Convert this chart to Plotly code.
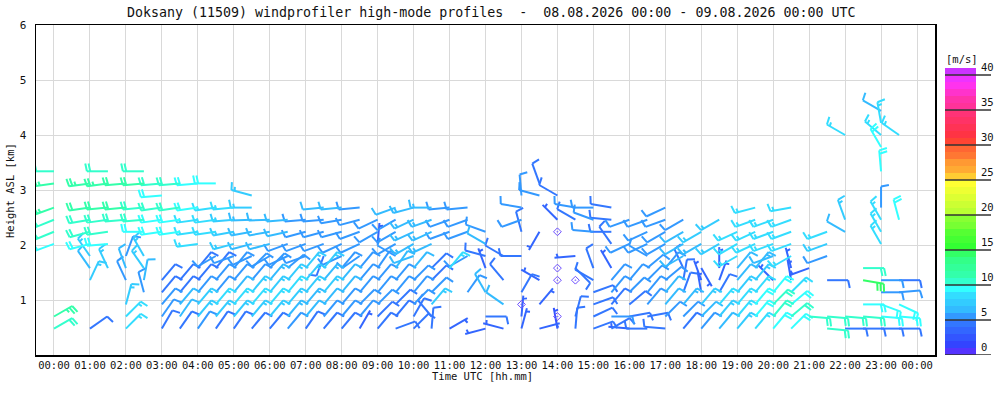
import math
import plotly.graph_objects as go

# ---------------- data ----------------
# range gates [km ASL]
heights = [0.48, 0.70, 0.92, 1.14, 1.36, 1.58, 1.80, 2.02, 2.24, 2.46,
           2.68, 2.90, 3.12, 3.34, 3.56, 3.78, 4.00, 4.22, 4.44]

# hour tick labels
hour_ticks = list(range(25))
hour_labels = ["00:00", "01:00", "02:00", "03:00", "04:00", "05:00", "06:00",
               "07:00", "08:00", "09:00", "10:00", "11:00", "12:00", "13:00",
               "14:00", "15:00", "16:00", "17:00", "18:00", "19:00", "20:00",
               "21:00", "22:00", "23:00", "00:00"]

# per gate: (time UTC [h], wind direction [deg], wind speed [m/s]); speed 0 = calm
g00 = [(0.0,60,10),(1.0,55,4.5),(2.0,45,8),(3.0,30,4.5),(3.5,35,4.5),(4.0,35,5),(4.5,35,4.5),
       (5.0,35,4.5),(5.5,40,4.5),(6.0,40,4.5),(6.5,40,5),(7.0,35,4.5),(7.5,40,4.5),(8.0,40,4.5),
       (8.5,30,3),(9.0,40,4.5),(9.5,70,4),(10.0,45,4.5),(10.5,5,4.5),(11.0,60,3),(12.0,255,3.5),
       (12.5,285,3),(13.0,15,3.5),(13.5,75,3),(14.0,350,2.5),(14.5,5,4),(15.0,70,4),(15.5,60,4.5),
       (16.0,275,3.5),(16.5,270,4),(17.0,275,4),(17.5,40,4.5),(18.0,40,5),(18.5,40,6),(19.0,40,7),
       (19.5,40,8.5),(20.0,40,9),(20.5,45,9),(21.5,95,10),(22.0,90,4.5),(22.5,90,4.5),(23.0,90,4.5),
       (23.5,90,4.5)]
g01 = [(0.0,60,11.5),(2.0,45,8.5),(3.0,35,5.5),(3.5,35,6),(4.0,40,7),(4.5,40,7),(5.0,40,7.5),
       (5.5,40,7.5),(6.0,40,7),(6.5,40,6.5),(7.0,40,6),(7.5,40,5.5),(8.0,40,5.5),(8.5,40,5),
       (9.0,45,4.5),(9.5,40,4.5),(10.0,30,4.5),(10.5,320,4),(12.0,90,4.5),(13.0,5,3),(14.0,0,0),
       (14.5,15,4),(15.0,65,4),(15.5,90,5),(16.0,80,4.5),(16.5,80,4.5),(17.0,45,5),(17.5,45,5.5),
       (18.0,45,6),(18.5,40,7),(19.0,40,8),(19.5,40,9.5),(20.0,40,10),(20.5,50,10),(21.0,95,10),
       (21.5,95,10),(22.0,95,10),(22.5,95,10),(23.0,95,9.5),(23.5,95,9)]
g02 = [(2.0,15,7),(3.0,40,5),(3.5,40,6),(4.0,40,7),(4.5,40,8),(5.0,40,8.5),(5.5,40,8.5),
       (6.0,40,8),(6.5,40,7.5),(7.0,40,6.5),(7.5,40,6),(8.0,40,5.5),(8.5,45,5),(9.0,45,5),
       (9.5,45,4.5),(10.0,45,5),(10.5,40,7),(12.5,305,6),(13.0,0,0),(13.5,40,3),(15.0,70,4),
       (15.5,40,4.5),(16.0,50,4.5),(16.5,40,5),(17.0,40,6),(17.5,40,6.5),(18.0,40,7.5),(18.5,40,8),
       (19.0,40,8.5),(19.5,40,9.5),(20.0,45,10),(20.5,50,9),(22.5,90,9),(23.0,110,9),(23.5,115,9)]
g03 = [(2.5,345,5.5),(3.0,40,4.5),(3.5,40,4.5),(4.0,40,5),(4.5,40,5),(5.0,40,6),(5.5,40,7),
       (6.0,40,7.5),(6.5,40,8),(7.0,40,7.5),(7.5,40,7),(8.0,40,6),(8.5,40,5.5),(9.0,40,5),
       (9.5,40,5),(10.0,40,5.5),(10.5,45,5),(11.5,35,5),(12.0,330,6),(13.0,30,4),(15.0,70,4),
       (15.5,40,5),(16.0,45,5),(16.5,40,5.5),(17.0,40,6),(17.5,20,4),(18.0,350,3),(18.5,30,4),
       (19.0,40,7),(19.5,40,8),(20.0,40,9),(20.5,45,8),(23.0,90,5),(23.5,85,5)]
g04 = [(1.0,25,7.5),(2.0,335,5),(2.5,10,6),(3.0,40,4.5),(3.5,40,4.5),(4.0,40,4.5),(4.5,40,5),
       (5.0,40,5),(5.5,40,5.5),(6.0,40,6.5),(6.5,40,7.5),(7.0,40,7.5),(7.5,40,6.5),(8.0,40,6),
       (8.5,40,5),(9.0,40,5.5),(9.5,40,5.5),(10.0,45,5),(10.5,45,4.5),(12.5,320,4),(13.5,300,3),
       (14.0,0,0),(14.5,0,0),(15.0,300,4),(15.5,40,5),(16.0,40,5),(16.5,45,5),(17.0,50,5),
       (17.5,10,4),(18.0,340,3),(18.5,20,3),(19.0,40,6),(19.5,40,7),(20.0,315,3),(20.5,350,3),
       (21.5,90,4.5),(22.5,100,14.5),(23.0,90,5.5),(23.5,90,4.5)]
g05 = [(1.0,325,6),(1.5,335,7),(2.0,340,6),(2.5,325,7),(4.0,40,4.5),(4.5,40,4.5),(5.0,40,5),
       (5.5,45,5),(6.0,45,5),(6.5,50,5),(7.0,40,7),(7.5,40,7),(8.0,40,5),(8.5,40,5),(9.0,35,5),
       (9.5,35,6),(10.0,40,6),(10.5,45,4.5),(11.0,40,8),(12.0,340,3.5),(14.0,0,0),(14.5,135,4),
       (15.0,340,4),(15.5,330,3.5),(16.5,50,5),(17.0,40,5),(17.5,335,4),(18.0,150,3),(18.5,0,3.5),
       (19.0,40,6),(19.5,40,6.5),(20.5,345,3),(21.0,250,3),(22.5,90,10)]
g06 = [(1.0,325,7),(2.0,20,5),(2.5,330,7),(4.5,240,5),(5.0,250,5),(5.5,245,5),(6.0,240,5),
       (6.5,245,5),(7.0,250,5),(7.5,200,4),(8.0,245,5),(8.5,235,5.5),(9.5,300,5),(10.0,250,6),
       (11.5,240,5),(12.0,285,4.5),(12.5,300,4),(13.0,270,4),(14.5,265,3.5),(16.5,300,5),
       (17.5,240,6),(19.0,240,8),(20.0,250,6),(20.5,240,8),(21.5,250,5.5)]
g07 = [(0.0,250,9.5),(1.0,255,9.5),(1.5,265,9.5),(4.0,262,8),(5.0,255,7.5),(5.5,255,6),
       (6.0,255,6),(6.5,250,5.5),(7.0,250,5.5),(7.5,250,5),(8.0,245,5),(8.5,245,5),(9.0,5,3.5),
       (9.5,240,5),(10.0,240,6.5),(10.5,245,6.5),(12.0,300,6),(15.5,325,4),(16.0,245,5),
       (16.5,245,5),(17.0,240,5.5),(17.5,240,6),(18.0,240,6.5),(18.5,240,7.5),(19.0,240,8),
       (19.5,245,8),(20.0,250,8),(20.5,250,8.5),(21.5,250,7.5),(23.0,330,8)]
g08 = [(0.0,248,10),(1.0,255,10),(1.5,262,10),(2.5,270,9),(3.0,262,9),(3.5,262,9),(4.0,262,8.5),
       (4.5,262,8),(5.0,260,7.5),(5.5,260,6.5),(6.0,260,6),(6.5,258,6),(7.0,255,5.5),(7.5,255,5.5),
       (8.0,255,5),(8.5,250,5),(9.0,240,5),(9.5,240,5),(10.0,245,6.5),(10.5,245,6.5),(11.0,250,5),
       (11.5,250,5),(12.0,290,5),(13.0,345,4),(13.5,210,3),(14.0,0,0),(15.0,275,5),(15.5,270,4.5),
       (16.5,245,5),(17.0,240,5.5),(17.5,240,6),(18.0,240,7),(19.0,245,8),(19.5,245,8),
       (20.0,250,8),(20.5,250,8.5),(21.5,250,8),(22.0,300,6),(23.0,330,8)]
g09 = [(0.0,248,10.5),(1.0,260,10.5),(1.5,262,10.5),(2.0,265,10),(2.5,265,10),(3.0,262,9.5),
       (3.5,262,9),(4.0,262,8.5),(4.5,262,8),(5.0,265,7.5),(5.5,268,6.5),(6.0,268,6),(6.5,265,6),
       (7.0,265,5.5),(7.5,265,5.5),(8.0,260,5.5),(8.5,255,5.5),(9.0,245,5.5),(9.5,240,5.5),
       (10.0,245,6.5),(10.5,250,6.5),(11.0,250,5),(11.5,250,5),(13.0,250,5),(14.0,315,3.5),
       (14.5,300,4),(15.0,290,5),(15.5,275,4.5),(16.0,250,5),(16.5,250,5),(17.0,250,5.5),
       (17.5,240,5.5),(18.5,240,7),(19.5,250,8),(20.0,250,8),(20.5,250,8),(22.0,340,7),
       (23.0,330,8),(23.5,345,9)]
g10 = [(0.0,250,11.5),(1.0,262,11),(1.5,265,11),(2.0,265,11),(2.5,265,10.5),(3.0,262,10),
       (3.5,262,10),(4.0,262,9),(4.5,262,8.5),(5.0,265,8),(5.5,270,7),(7.5,265,6),(8.0,265,6),
       (8.5,265,5.5),(9.5,250,6),(10.0,255,6.5),(10.5,270,6.5),(11.0,265,5),(11.5,265,5),
       (13.0,280,5),(14.5,280,5),(15.0,270,5),(15.5,280,4.5),(17.0,245,5.5),(19.5,255,8),
       (20.5,260,8),(23.0,0,5.5)]
g11 = [(3.0,265,9.5),(5.5,285,7),(13.0,355,5),(13.5,285,5),(14.0,300,4)]
g12 = [(0.0,262,11.5),(1.0,262,11.5),(1.5,262,11.5),(2.0,265,11),(2.5,265,11),(3.0,265,10),
       (3.5,265,10),(4.0,265,9.5),(4.5,270,9),(13.5,340,4)]
g13 = [(0.0,270,10),(1.5,270,10.5),(2.5,270,10.5),(23.0,355,9)]
g14 = []
g15 = [(23.0,330,9)]
g16 = [(22.0,300,8),(23.0,310,8),(23.5,305,8)]
g17 = [(23.0,350,8)]
g18 = [(23.0,300,6)]
gates = [g00, g01, g02, g03, g04, g05, g06, g07, g08, g09,
         g10, g11, g12, g13, g14, g15, g16, g17, g18]

# colour table, one colour per 1 m/s band (0..41 m/s)
band_colors = ["#5533ff", "#3344ff", "#3355ff", "#3366ff", "#3377ff", "#3399ff", "#33bbff",
               "#33ccff", "#33ddff", "#33ffff", "#33ffcc", "#33ffaa", "#33ff99", "#33ff88",
               "#33ff66", "#33ff33", "#44ff33", "#55ff33", "#77ff33", "#88ff33", "#bbff33",
               "#ccff33", "#ddff33", "#eeff33", "#ffff33", "#ffcc33", "#ffaa33", "#ff9933",
               "#ff7733", "#ff6633", "#ff4433", "#ff3344", "#ff3355", "#ff3366", "#ff3377",
               "#ff3399", "#ff33aa", "#ff33cc", "#ff33ee", "#ee33ff", "#cc33ff"]
cbar_ticks = [0, 5, 10, 15, 20, 25, 30, 35, 40]

# ---------------- geometry (page pixels of the target picture) ----------------
W, H = 1000, 400
P_LEFT, P_RIGHT_PAPER, P_TOP, P_BOTTOM = 36, 992, 25, 355   # page px
ML = P_LEFT
MT = P_TOP
MR = W - P_RIGHT_PAPER
MB = H - P_BOTTOM
PW = P_RIGHT_PAPER - P_LEFT   # paper width px
PH = P_BOTTOM - P_TOP         # paper height px
PLOT_W = 899                  # main plot width px
XR = (-0.5, 24.5)
YR = (0.0, 6.0)
PXX = PLOT_W / (XR[1] - XR[0])   # px per hour
PXY = PH / (YR[1] - YR[0])       # px per km


def px(xp):   # page x -> paper fraction
    return (xp - P_LEFT) / PW


def py(yp):   # page y -> paper fraction
    return (P_BOTTOM - yp) / PH


STAFF = 21.0
FEATHER = 8.0
SPACING = 3.3
ANG = math.radians(78)

segs = {}
calm_x, calm_y = [], []


def add_seg(ci, x0, y0, x1, y1):
    xs, ys = segs.setdefault(ci, ([], []))
    xs += [x0, x1, None]
    ys += [y0, y1, None]


for k, gate in enumerate(gates):
    h = heights[k]
    for (t, d, s) in gate:
        if s <= 0.5:
            calm_x.append(t)
            calm_y.append(h)
            continue
        ci = min(int(s), len(band_colors) - 1)
        r = math.radians(d)
        ux, uy = math.sin(r), math.cos(r)
        fx = ux * math.cos(ANG) + uy * math.sin(ANG)
        fy = -ux * math.sin(ANG) + uy * math.cos(ANG)
        ex, ey = t + STAFF * ux / PXX, h + STAFF * uy / PXY
        add_seg(ci, t, h, ex, ey)
        n = int(round(s / 2.5))
        full, half = n // 2, n % 2
        pos = 0.0
        for i in range(full):
            bx = t + (STAFF - pos) * ux / PXX
            by = h + (STAFF - pos) * uy / PXY
            add_seg(ci, bx, by, bx + FEATHER * fx / PXX, by + FEATHER * fy / PXY)
            pos += SPACING
        if half:
            if full == 0:
                pos = SPACING
            bx = t + (STAFF - pos) * ux / PXX
            by = h + (STAFF - pos) * uy / PXY
            add_seg(ci, bx, by, bx + 0.5 * FEATHER * fx / PXX, by + 0.5 * FEATHER * fy / PXY)

fig = go.Figure()

for ci in sorted(segs):
    xs, ys = segs[ci]
    fig.add_trace(go.Scatter(x=xs, y=ys, mode="lines",
                             line=dict(color=band_colors[ci], width=2),
                             hoverinfo="skip", showlegend=False))

fig.add_trace(go.Scatter(x=calm_x, y=calm_y, mode="markers",
                         marker=dict(symbol="diamond-open-dot", size=6, color="#6a4cff",
                                     line=dict(width=1, color="#6a4cff")),
                         hoverinfo="skip", showlegend=False))

# colour bar as heatmap on its own axes
nb = len(band_colors)
cscale = []
for i, c in enumerate(band_colors):
    cscale.append([i / nb, c])
    cscale.append([(i + 1) / nb, c])
fig.add_trace(go.Heatmap(z=[[i + 0.5] for i in range(nb)], x=[0.5],
                         y=[i + 0.5 for i in range(nb)],
                         colorscale=cscale, zmin=0, zmax=nb, showscale=False,
                         hoverinfo="skip", xaxis="x2", yaxis="y2"))

FONT = "DejaVu Sans Mono"
TXT = "#111111"

shapes = []
for v in cbar_ticks:
    shapes.append(dict(type="line", xref="paper", yref="y2",
                       x0=px(945), x1=px(991), y0=v, y1=v,
                       line=dict(color="#333333", width=1.5)))

annotations = []
for v in cbar_ticks:
    annotations.append(dict(text=str(v), xref="paper", yref="y2", x=px(979), y=v,
                            xanchor="left", yanchor="bottom", showarrow=False,
                            font=dict(family=FONT, size=10.5, color=TXT)))
annotations.append(dict(text="[m/s]", xref="paper", yref="paper", x=px(944),
                        y=py(59), xanchor="left", yanchor="middle",
                        showarrow=False, font=dict(family=FONT, size=10.5, color=TXT)))
annotations.append(dict(text="Doksany (11509) windprofiler high-mode profiles\u00a0\u00a0-\u00a0\u00a008.08.2026 00:00 - 09.08.2026 00:00 UTC",
                        xref="paper", yref="paper", x=px(491), y=py(13),
                        xanchor="center", yanchor="middle", showarrow=False,
                        font=dict(family=FONT, size=13.3, color=TXT)))
annotations.append(dict(text="Time UTC [hh.mm]", xref="paper", yref="paper",
                        x=px(482), y=py(376),
                        xanchor="center", yanchor="middle", showarrow=False,
                        font=dict(family=FONT, size=10.5, color=TXT)))
annotations.append(dict(text="Height ASL [km]", xref="paper", yref="paper",
                        x=px(10), y=py(191), textangle=-90,
                        xanchor="center", yanchor="middle", showarrow=False,
                        font=dict(family=FONT, size=10.5, color=TXT)))

fig.update_layout(
    width=W, height=H,
    margin=dict(l=ML, r=MR, t=MT, b=MB, autoexpand=False),
    paper_bgcolor="white", plot_bgcolor="white",
    showlegend=False,
    xaxis=dict(domain=[0, PLOT_W / PW], range=list(XR), tickmode="array",
               tickvals=hour_ticks, ticktext=hour_labels, showgrid=True,
               gridcolor="#d9d9d9", gridwidth=1, zeroline=False, showline=True,
               linecolor="black", linewidth=1.5, mirror=True, ticks="",
               ticklabelstandoff=0,
               tickfont=dict(family=FONT, size=10.5, color=TXT), fixedrange=True),
    yaxis=dict(domain=[0, 1], range=list(YR), tickmode="array", tickvals=[1, 2, 3, 4, 5, 6],
               showgrid=True, gridcolor="#d9d9d9", gridwidth=1, zeroline=False,
               showline=True, linecolor="black", linewidth=1.5, mirror=True, ticks="",
               ticklabelstandoff=6,
               tickfont=dict(family=FONT, size=11, color=TXT), fixedrange=True),
    xaxis2=dict(domain=[px(945), px(976)], range=[0, 1], visible=False, anchor="y2",
                fixedrange=True),
    yaxis2=dict(domain=[0, py(68)], range=[0, nb], visible=False, anchor="x2",
                fixedrange=True),
    shapes=shapes,
    annotations=annotations,
)

# page without the default 8px body margin so the figure fills the window
fig.write_html("out.html",
               config={"displayModeBar": False, "staticPlot": True},
               post_script="document.body.style.margin='0px';document.body.style.overflow='hidden';")
